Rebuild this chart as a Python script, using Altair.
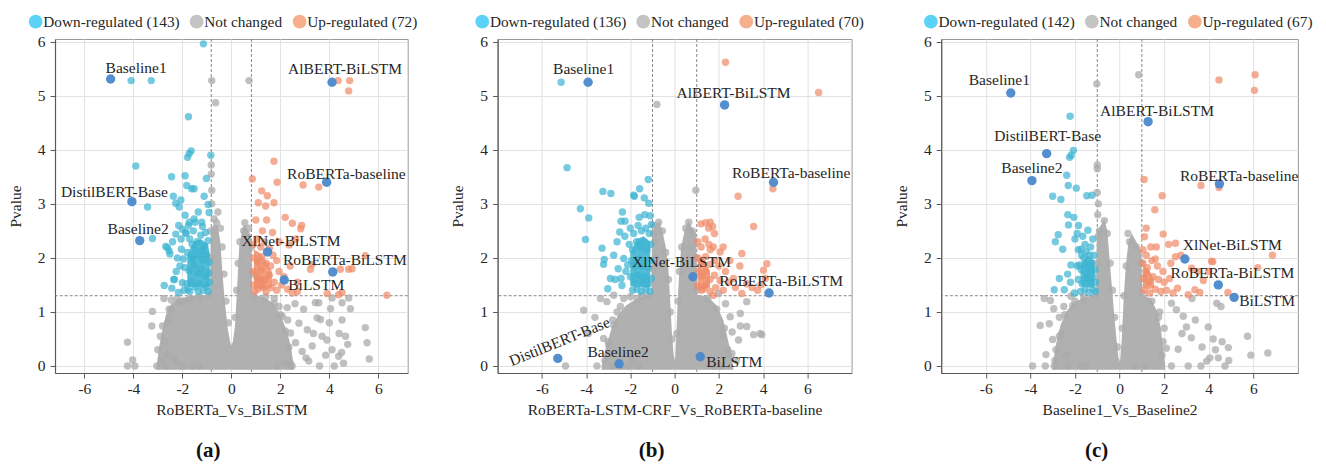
import altair as alt
import pandas as pd

FONT = "Liberation Serif"
TXT = "#262626"
LEGEND_COLORS = ["#5CD2F7", "#C4C4C4", "#F5AF8D"]
GRAY = "#ABABAB"
GRAY_MASS = "#B0B0B0"
BLUE = "#3CB4D2"
BLUE_CORE = "#4AB9D5"
ORANGE = "#EF8A66"
ORANGE_CORE = "#F29A7A"
HILITE = "#4A88CB"

X_TICKS = [-6, -4, -2, 0, 2, 4, 6]
Y_TICKS = [0, 1, 2, 3, 4, 5, 6]
Y_DOMAIN = [-0.13, 6.05]
P_CUT = 1.3
NAMES = ["Baseline1", "AlBERT-BiLSTM", "DistilBERT-Base", "Baseline2",
         "RoBERTa-baseline", "XlNet-BiLSTM", "RoBERTa-BiLSTM", "BiLSTM"]

# ---------------- panel (a) ----------------
A_XTITLE = "RoBERTa_Vs_BiLSTM"
A_CAPTION = "(a)"
A_LEGEND = ["Down-regulated (143)", "Not changed", "Up-regulated (72)"]
A_XDOM = [-7.2, 7.2]
A_FC = 0.82
A_HI_X = [-4.93, 4.11, -4.06, -3.74, 3.89, 1.48, 4.14, 2.16]
A_HI_Y = [5.31, 5.25, 3.04, 2.32, 3.40, 2.11, 1.74, 1.59]
A_DOWN = [(-4.09, 5.28), (-3.27, 5.28), (-1.14, 5.96), (-1.75, 4.61),
          (-3.90, 3.70), (-3.42, 2.94), (-3.22, 2.36), (-2.44, 3.50), (-2.37, 3.14), (-2.27, 3.01),
          (-2.06, 3.07), (-2.13, 2.94), (-1.89, 3.52), (-1.79, 3.86), (-1.72, 3.93), (-1.64, 3.98),
          (-1.82, 3.34), (-1.62, 3.28), (-1.52, 3.28), (-1.89, 2.79), (-1.52, 2.72), (-1.72, 2.66),
          (-2.00, 2.53), (-1.86, 2.47), (-2.27, 2.44), (-2.40, 2.30), (-2.68, 2.21), (-2.54, 2.13),
          (-2.04, 2.16), (-2.74, 1.49), (-2.43, 1.44), (-2.33, 1.60), (-2.00, 1.54), (-1.93, 1.40),
          (-1.02, 3.47), (-1.11, 3.14), (-0.95, 2.99), (-0.91, 2.84), (-0.84, 3.90), (-1.21, 2.66),
          (-1.05, 2.47), (-2.61, 2.19), (-2.51, 2.07), (-2.35, 1.60), (-2.16, 1.36), (-1.77, 1.42),
          (-1.85, 2.45), (-1.70, 2.35), (-1.55, 2.50), (-1.40, 2.30), (-1.25, 2.42), (-1.10, 2.22),
          (-0.95, 2.32), (-1.80, 2.10), (-1.62, 2.02), (-1.47, 2.15), (-1.32, 2.05), (-1.17, 1.96),
          (-1.02, 2.06), (-0.90, 1.92), (-1.90, 1.82), (-1.72, 1.76), (-1.52, 1.86), (-1.37, 1.72),
          (-1.22, 1.80), (-1.07, 1.66), (-0.92, 1.72), (-1.82, 1.52), (-1.62, 1.56), (-1.47, 1.46),
          (-1.30, 1.52), (-1.15, 1.40), (-1.00, 1.46), (-0.90, 1.55), (-1.75, 2.60), (-1.48, 2.66),
          (-1.18, 2.58), (-1.60, 2.25), (-1.15, 2.15), (-0.95, 1.38), (-1.70, 1.38), (-1.35, 1.38),
          (-2.10, 1.85), (-2.20, 2.00), (-2.25, 1.75), (-2.05, 2.35), (-2.15, 2.60), (-1.35, 2.85),
          (-1.95, 1.98), (-1.58, 1.98)]
A_UP = [(4.36, 5.28), (4.83, 5.28), (4.79, 5.09), (1.74, 3.79), (0.86, 3.46), (1.24, 3.24),
        (1.47, 3.15), (1.87, 3.40), (1.10, 3.02), (1.40, 2.96), (1.74, 3.02), (1.00, 2.70),
        (1.44, 2.70), (2.20, 2.75), (2.49, 2.64), (2.87, 2.60), (2.83, 2.54), (2.93, 3.35),
        (3.57, 3.31), (1.27, 2.50), (1.68, 2.47), (1.95, 2.30), (2.36, 2.24), (2.63, 2.35),
        (3.23, 1.79), (3.30, 1.88), (4.45, 1.79), (4.79, 1.79), (4.38, 1.32), (2.49, 1.35),
        (5.47, 2.04), (4.93, 1.80), (6.35, 1.31), (4.52, 1.36), (3.91, 1.34),
        (0.90, 2.25), (1.05, 2.35), (1.20, 2.20), (1.35, 2.30), (1.55, 2.18), (1.70, 2.05),
        (0.92, 2.00), (1.08, 1.92), (1.25, 2.02), (1.42, 1.90), (1.60, 1.85), (1.85, 1.95),
        (0.90, 1.75), (1.05, 1.65), (1.22, 1.78), (1.38, 1.60), (1.55, 1.68), (1.75, 1.55),
        (0.92, 1.50), (1.08, 1.42), (1.25, 1.52), (1.42, 1.38), (1.62, 1.45), (1.85, 1.40),
        (2.05, 1.50), (2.30, 1.42), (2.70, 1.38), (2.15, 1.65), (1.95, 1.75), (2.40, 1.85),
        (2.70, 1.55), (0.95, 1.38), (1.15, 1.60), (1.30, 1.45)]
A_GRAY = [(-0.80, 5.28), (0.72, 5.28), (-0.64, 4.87), (-0.82, 3.72), (-0.82, 3.55), (-0.80, 3.25),
          (-0.80, 3.00), (0.55, 2.65), (-0.70, 2.72), (-0.55, 2.85),
          (-4.24, 0.44), (-4.03, 0.11), (-4.24, 0.0), (-3.94, 0.0), (-3.04, 0.0), (-3.25, 0.74),
          (-3.22, 1.01), (-2.81, 0.74), (-2.54, 1.05), (-2.54, 0.89), (-2.61, 0.21), (-2.68, 0.0),
          (-1.99, 0.0), (-2.33, 0.13), (-2.75, 1.25), (-2.45, 1.22), (-2.20, 1.25), (-1.95, 1.20),
          (-3.0, 0.3), (-2.9, 0.55), (-2.2, 0.05), (-1.6, 0.0), (-1.3, 0.0),
          (5.47, 0.71), (5.54, 0.43), (5.63, 0.13), (4.86, 1.06), (4.52, 0.85), (4.05, 1.06),
          (3.43, 1.17), (3.50, 0.89), (3.70, 0.55), (3.90, 0.48), (4.11, 0.30), (4.38, 0.18),
          (4.58, 0.05), (4.66, 0.55), (4.20, 0.0), (3.60, 0.0), (3.16, 0.09), (2.89, 0.27),
          (2.62, 0.43), (2.42, 0.61), (2.76, 0.79), (3.10, 0.67), (3.30, 0.37), (2.21, 0.06),
          (2.48, 0.0), (1.87, 0.0), (2.08, 0.92), (2.28, 1.08), (4.79, 1.26), (4.52, 1.17),
          (4.11, 1.26), (3.57, 1.17), (3.64, 0.86), (4.40, 0.60), (4.00, 0.80), (3.85, 0.20),
          (4.50, 0.25), (4.75, 0.40), (3.35, 0.60), (2.95, 1.05), (3.05, 0.15), (2.60, 1.15),
          (1.95, 1.10), (1.75, 1.25), (2.30, 0.85),
          (-2.85, 0.1), (-2.7, 0.45), (-2.6, 0.8), (-2.45, 1.05), (-2.15, 1.18), (-1.7, 1.25),
          (-1.3, 1.28), (-0.9, 1.32), (-0.85, 2.0), (-0.85, 2.5), (-0.6, 2.65), (-0.45, 2.55),
          (-0.38, 2.2), (-0.3, 1.7), (-0.22, 1.2), (-0.12, 0.8), (0.15, 0.9), (0.22, 1.4),
          (0.28, 1.9), (0.35, 2.3), (0.5, 2.5), (0.7, 2.55), (0.83, 2.2), (0.85, 1.7), (0.9, 1.3),
          (1.4, 1.28), (1.75, 1.15), (2.0, 0.95), (2.2, 0.65), (2.35, 0.35), (2.4, 0.05)]
A_MASS_X = [-3.05, -2.95, -2.8, -2.65, -2.45, -2.1, -1.6, -0.86, -0.84, -0.7, -0.56, -0.45, -0.36,
            -0.28, -0.15, -0.05, 0.0, 0.06, 0.15, 0.22, 0.32, 0.45, 0.55, 0.7, 0.82, 0.85, 1.3,
            1.75, 2.05, 2.3, 2.45, 2.55]
A_MASS_Y = [0.0, 0.35, 0.7, 0.98, 1.15, 1.25, 1.3, 1.32, 2.55, 2.62, 2.6, 2.3, 1.7, 1.25, 0.7,
            0.45, 0.38, 0.45, 0.75, 1.3, 2.2, 2.55, 2.62, 2.5, 2.4, 1.32, 1.28, 1.15, 0.9, 0.6,
            0.3, 0.0]
A_DOWN_CORE = ([-1.80, -1.55, -1.25, -0.95, -0.88], [1.48, 1.45, 1.45, 1.45, 1.48],
               [2.05, 2.30, 2.35, 2.25, 2.05])
A_UP_CORE = ([0.92, 1.15, 1.40, 1.65], [1.45, 1.42, 1.42, 1.45], [2.15, 2.10, 1.95, 1.75])

# ---------------- panel (b) ----------------
B_XTITLE = "RoBERTa-LSTM-CRF_Vs_RoBERTa-baseline"
B_CAPTION = "(b)"
B_LEGEND = ["Down-regulated (136)", "Not changed", "Up-regulated (70)"]
B_XDOM = [-8, 8]
B_FC = 1.0
B_HI_X = [-3.91, 2.26, -5.28, -2.51, 4.47, 0.83, 4.27, 1.16]
B_HI_Y = [5.25, 4.83, 0.14, 0.04, 3.40, 1.65, 1.35, 0.17]
B_DOWN = [(-5.13, 5.25), (-4.86, 3.67), (-3.24, 3.23), (-2.88, 3.19), (-1.82, 3.14), (-1.58, 3.28),
          (-1.37, 3.11), (-1.19, 3.45), (-4.26, 2.91), (-3.88, 2.74), (-4.03, 2.34), (-3.28, 2.18),
          (-3.21, 1.88), (-3.18, 1.97), (-2.90, 1.62), (-2.68, 1.60), (-3.02, 1.43), (-1.85, 3.16),
          (-1.17, 3.01), (-2.36, 2.85), (-2.42, 2.68), (-2.24, 2.68), (-2.48, 2.48), (-2.30, 1.99),
          (-2.12, 1.87), (-2.42, 1.62), (-2.38, 1.49),
          (-2.0, 2.55), (-1.85, 2.45), (-1.65, 2.6), (-1.5, 2.5), (-1.3, 2.55), (-1.15, 2.45),
          (-1.05, 2.62), (-2.05, 2.25), (-1.9, 2.15), (-1.72, 2.3), (-1.55, 2.2), (-1.4, 2.3),
          (-1.25, 2.15), (-1.08, 2.25), (-1.95, 1.95), (-1.8, 1.85), (-1.62, 1.98), (-1.48, 1.85),
          (-1.32, 1.95), (-1.18, 1.82), (-1.05, 1.95), (-2.0, 1.65), (-1.82, 1.55), (-1.66, 1.68),
          (-1.5, 1.55), (-1.35, 1.65), (-1.2, 1.52), (-1.05, 1.62), (-1.9, 1.4), (-1.7, 1.42),
          (-1.5, 1.38), (-1.3, 1.42), (-1.12, 1.38), (-2.2, 1.75), (-2.25, 2.4), (-1.6, 2.75),
          (-1.35, 2.8), (-1.1, 2.78), (-2.6, 2.3), (-2.75, 2.05), (-2.55, 1.8)]
B_UP = [(2.30, 5.62), (6.51, 5.06), (2.87, 3.14), (4.44, 3.28), (3.57, 2.58), (1.19, 2.63),
        (1.61, 2.66), (1.54, 2.55), (1.80, 2.45), (2.06, 2.11), (1.61, 2.15), (3.04, 2.08),
        (4.17, 1.89), (4.02, 1.77), (4.1, 1.62), (3.9, 1.5), (3.26, 1.52), (2.66, 1.62),
        (3.04, 1.34), (2.75, 1.45), (1.76, 1.31), (1.31, 1.43), (1.4, 2.65), (1.72, 2.58),
        (2.2, 2.2), (2.5, 1.95), (2.3, 1.75), (3.5, 1.45), (3.75, 1.4), (2.95, 1.85),
        (1.05, 2.3), (1.2, 2.2), (1.38, 2.35), (1.55, 2.25), (1.75, 2.2), (1.05, 2.0),
        (1.22, 1.92), (1.4, 2.02), (1.58, 1.88), (1.8, 1.95), (2.0, 1.85), (1.08, 1.75),
        (1.25, 1.65), (1.42, 1.75), (1.6, 1.6), (1.8, 1.68), (2.05, 1.58), (1.05, 1.48),
        (1.22, 1.4), (1.4, 1.5), (1.6, 1.38), (1.85, 1.45), (2.2, 1.4), (2.45, 1.55)]
B_GRAY = [(-0.80, 4.84), (0.96, 3.25), (0.64, 2.66), (0.71, 2.20), (-0.72, 2.66), (-0.95, 2.6),
          (-0.9, 2.3), (-0.85, 2.0), (-2.75, 1.31), (-4.11, 1.03), (-4.93, 0.0), (-2.82, 0.0),
          (-1.62, 0.0), (2.97, 0.97), (3.26, 0.73), (2.60, 0.63), (3.57, 0.58), (3.94, 0.58),
          (2.59, 0.23), (-3.35, 1.25), (-3.06, 1.19), (-2.60, 1.0), (-2.75, 0.76), (-3.21, 0.51),
          (-2.98, 0.39), (-3.51, 0.0), (-2.08, 0.0), (-2.4, 0.0), (-1.9, 0.1), (2.51, 0.91),
          (2.97, 0.74), (3.87, 0.60), (3.26, 1.19), (2.89, 0.48), (1.99, 1.34), (2.3, 1.15),
          (2.2, 0.55), (2.4, 0.3), (2.8, 0.1), (2.1, 0.0), (1.8, 0.0), (-3.6, 0.9), (-3.9, 0.6),
          (-2.3, 1.25), (-2.0, 1.28), (-1.5, 1.3),
          (-3.15, 0.1), (-3.0, 0.45), (-2.8, 0.85), (-2.45, 1.1), (-1.7, 1.25), (-1.2, 1.3),
          (-1.0, 1.8), (-0.95, 2.45), (-0.55, 2.5), (-0.4, 2.1), (-0.28, 1.6), (-0.2, 1.0),
          (-0.12, 0.5), (0.1, 0.6), (0.15, 1.2), (0.22, 1.75), (0.32, 2.2), (0.5, 2.55),
          (0.8, 2.5), (0.98, 2.0), (1.0, 1.4), (1.5, 1.25), (1.9, 1.05), (2.25, 0.7), (2.45, 0.2)]
B_MASS_X = [-3.3, -3.1, -2.85, -2.55, -2.2, -1.8, -1.4, -1.05, -1.02, -0.85, -0.7, -0.55, -0.4,
            -0.28, -0.2, -0.12, -0.04, 0.02, 0.07, 0.14, 0.22, 0.3, 0.45, 0.62, 0.8, 0.98, 1.02,
            1.5, 1.9, 2.2, 2.4, 2.55, 2.65]
B_MASS_Y = [0.0, 0.35, 0.7, 0.95, 1.12, 1.22, 1.3, 1.32, 2.45, 2.62, 2.68, 2.5, 2.2, 1.8, 1.2,
            0.6, 0.2, 0.1, 0.5, 1.2, 1.8, 2.2, 2.5, 2.68, 2.55, 2.45, 1.32, 1.28, 1.12, 0.85,
            0.5, 0.25, 0.0]
B_DOWN_CORE = ([-2.0, -1.7, -1.4, -1.1], [1.48, 1.45, 1.45, 1.45], [2.1, 2.35, 2.4, 2.3])
B_UP_CORE = ([1.05, 1.3, 1.6], [1.45, 1.42, 1.45], [1.95, 2.0, 1.75])

# ---------------- panel (c) ----------------
C_XTITLE = "Baseline1_Vs_Baseline2"
C_CAPTION = "(c)"
C_LEGEND = ["Down-regulated (142)", "Not changed", "Up-regulated (67)"]
C_XDOM = [-8, 8]
C_FC = 1.0
C_HI_X = [-4.88, 1.28, -3.27, -3.93, 4.48, 2.93, 4.43, 5.14]
C_HI_Y = [5.05, 4.52, 3.93, 3.43, 3.37, 1.98, 1.50, 1.27]
C_DOWN = [(-2.22, 4.62), (-2.07, 3.99), (-2.17, 3.90), (-2.24, 3.86), (-2.37, 3.53), (-2.30, 3.34),
          (-1.94, 3.29), (-3.0, 3.14), (-2.63, 3.08), (-1.47, 3.15), (-1.23, 3.16), (-2.32, 2.80),
          (-2.29, 2.61), (-1.84, 2.60), (-1.42, 2.51), (-2.75, 2.43), (-2.88, 2.30), (-2.55, 2.16),
          (-1.73, 2.16), (-2.18, 1.87), (-1.80, 1.87), (-2.70, 1.62), (-2.33, 1.70), (-2.48, 1.41),
          (-2.93, 1.41), (-2.03, 1.35), (-2.05, 2.75), (-1.55, 2.25), (-1.2, 2.35), (-1.6, 2.0),
          (-1.35, 2.05), (-2.0, 2.35), (-1.9, 2.45), (-1.65, 2.4),
          (-1.85, 2.15), (-1.7, 2.05), (-1.5, 2.12), (-1.3, 2.2), (-1.15, 2.05), (-1.9, 1.85),
          (-1.72, 1.78), (-1.55, 1.9), (-1.4, 1.82), (-1.25, 1.9), (-1.1, 1.78), (-1.85, 1.6),
          (-1.68, 1.52), (-1.5, 1.62), (-1.35, 1.55), (-1.2, 1.65), (-1.08, 1.55), (-1.75, 1.38),
          (-1.55, 1.42), (-1.38, 1.36), (-1.2, 1.42), (-1.08, 1.38), (-2.2, 1.55), (-1.45, 1.7),
          (-1.25, 1.75)]
C_UP = [(4.46, 5.29), (6.08, 5.39), (6.05, 5.10), (1.10, 3.45), (1.91, 3.15), (3.65, 3.34),
        (4.46, 3.30), (1.58, 2.89), (1.20, 2.55), (1.96, 2.44), (2.51, 2.27), (2.51, 2.02),
        (4.13, 1.94), (6.86, 2.05), (6.20, 1.82), (3.23, 1.81), (2.60, 1.44), (3.08, 1.32),
        (3.60, 1.36), (4.86, 1.36), (4.18, 1.93), (3.76, 1.58), (3.38, 1.41), (1.65, 2.20),
        (1.12, 2.39), (2.2, 2.25), (2.75, 2.05), (2.3, 1.9), (3.5, 1.75), (4.0, 1.75),
        (1.05, 2.15), (1.2, 2.05), (1.4, 2.2), (1.05, 1.9), (1.25, 1.82), (1.45, 1.95),
        (1.7, 1.85), (1.95, 1.75), (1.08, 1.62), (1.3, 1.55), (1.5, 1.65), (1.75, 1.6),
        (2.0, 1.55), (2.25, 1.62), (1.1, 1.4), (1.35, 1.35), (1.6, 1.42), (1.85, 1.38),
        (2.1, 1.4), (2.4, 1.35), (1.2, 1.72), (1.6, 1.98)]
C_GRAY = [(0.86, 5.39), (-1.02, 5.22), (-1.0, 3.72), (-1.0, 3.65), (-1.0, 3.21), (-0.68, 2.69),
          (0.38, 2.45), (-0.95, 3.0), (-0.98, 2.8), (-0.9, 2.5),
          (-3.90, 0.0), (-3.33, 0.0), (-2.93, 0.0), (-2.33, 0.0), (-3.30, 0.21), (-3.56, 0.75),
          (-3.15, 0.78), (-3.38, 1.25), (-3.10, 1.21), (-2.95, 1.06), (-3.0, 0.49), (-2.18, 1.29),
          (-1.72, 0.0), (-1.5, 0.0), (-2.7, 0.9), (-2.5, 1.1), (-2.6, 0.6), (-2.85, 0.3),
          (-2.4, 0.2), (-2.0, 1.2), (-1.6, 1.28),
          (0.68, 0.0), (1.13, 0.0), (2.33, 0.0), (3.08, 0.0), (3.65, 0.0), (3.91, 0.09),
          (4.73, 0.0), (4.43, 0.15), (4.88, 0.34), (5.74, 0.55), (5.89, 0.20), (6.65, 0.24),
          (3.98, 0.72), (3.0, 0.72), (2.86, 0.92), (3.22, 0.52), (2.63, 0.31), (2.10, 0.33),
          (2.55, 1.04), (2.33, 1.16), (4.36, 1.16), (4.55, 1.1), (3.25, 1.25), (4.2, 0.5),
          (4.6, 0.45), (4.3, 0.3), (3.7, 0.35), (4.05, 0.15), (4.9, 0.1), (3.4, 0.85), (2.0, 0.7),
          (1.8, 1.0), (1.9, 0.2), (2.8, 0.6),
          (-2.9, 0.1), (-2.7, 0.55), (-2.45, 0.95), (-2.1, 1.12), (-1.6, 1.22), (-1.1, 1.3),
          (-1.0, 1.9), (-0.95, 2.4), (-0.55, 2.45), (-0.42, 1.9), (-0.32, 1.4), (-0.22, 0.9),
          (-0.1, 0.35), (0.12, 0.7), (0.2, 1.3), (0.3, 1.85), (0.45, 2.3), (0.75, 2.2),
          (0.98, 1.9), (1.0, 1.35), (1.45, 1.2), (1.75, 0.9), (1.95, 0.45)]
C_MASS_X = [-3.0, -2.85, -2.65, -2.4, -2.1, -1.7, -1.3, -1.05, -1.02, -0.85, -0.68, -0.55, -0.45,
            -0.35, -0.25, -0.15, -0.05, 0.02, 0.1, 0.18, 0.28, 0.4, 0.55, 0.75, 0.98, 1.02, 1.4,
            1.7, 1.85, 1.95, 2.05]
C_MASS_Y = [0.0, 0.4, 0.75, 1.0, 1.15, 1.25, 1.3, 1.32, 2.45, 2.6, 2.72, 2.5, 2.0, 1.5, 1.0, 0.55,
            0.15, 0.08, 0.5, 1.2, 1.85, 2.3, 2.45, 2.3, 2.1, 1.32, 1.25, 1.0, 0.7, 0.35, 0.0]
C_DOWN_CORE = ([-1.75, -1.45, -1.12], [1.5, 1.45, 1.45], [1.85, 2.05, 1.95])
C_UP_CORE = ([1.05, 1.3, 1.55], [1.45, 1.42, 1.45], [1.85, 1.8, 1.6])

# label placement (style only): align, dx, dy, angle
LABEL_STYLE = {
    "a": [("left", -5, -11, 0), ("right", 70, -13, 0), ("right", 36, -10, 0), ("right", 29, -12, 0),
          ("right", 79, -8, 0), ("left", -26, -11, 0), ("right", 74, -12, 0), ("left", 4, 5, 0)],
    "b": [("left", -35, -13, 0), ("left", -48, -12, 0), ("center", 8, -15, 338), ("center", -1, -12, 0),
          ("right", 77, -9, 0), ("left", -61, -15, 0), ("right", 74, -12, 0), ("left", 6, 5, 0)],
    "c": [("left", -42, -13, 0), ("left", -48, -11, 0), ("center", 1, -18, 0), ("center", 0, -13, 0),
          ("right", 79, -8, 0), ("left", -2, -14, 0), ("right", 76, -12, 0), ("left", 5, 4, 0)],
}
LEGEND_POS = {"a": -27, "b": -23, "c": -18}


def pts(pairs):
    return pd.DataFrame(pairs, columns=["x", "y"])


def panel(key, xtitle, caption, legend_cats, xdom, fc, hi_x, hi_y, down, up, gray,
          mass_x, mass_y, down_core, up_core, width):
    xax = alt.Axis(values=X_TICKS, title=xtitle, labelExpr="'' + datum.value", grid=True,
                   gridColor="#E2E2E2", domainColor="#5a5a5a", domainWidth=1.2,
                   tickColor="#5a5a5a", tickSize=5, labelFont=FONT, labelFontSize=15.5,
                   labelColor=TXT, labelPadding=3, titleFont=FONT, titleFontSize=15.5,
                   titleFontWeight="normal", titleColor=TXT, titlePadding=6, labelFlush=False)
    yax = alt.Axis(values=Y_TICKS, title="Pvalue", grid=True, gridColor="#E2E2E2",
                   domainColor="#5a5a5a", domainWidth=1.2, tickColor="#5a5a5a", tickSize=5,
                   labelFont=FONT, labelFontSize=15.5, labelColor=TXT, labelPadding=5,
                   titleFont=FONT, titleFontSize=15.5, titleFontWeight="normal",
                   titleColor=TXT, titlePadding=14, labelFlush=False)
    X = alt.X("x:Q", scale=alt.Scale(domain=xdom, nice=False, zero=False), axis=xax)
    Y = alt.Y("y:Q", scale=alt.Scale(domain=Y_DOMAIN, nice=False, zero=False), axis=yax)

    legend_df = pd.DataFrame({"cat": legend_cats, "x": [0, 0, 0], "y": [0, 0, 0]})
    legend_layer = alt.Chart(legend_df).mark_circle(opacity=0, size=1).encode(
        x=X, y=Y,
        color=alt.Color("cat:N", scale=alt.Scale(domain=legend_cats, range=LEGEND_COLORS),
                        legend=alt.Legend(orient="none", legendX=LEGEND_POS[key], legendY=-25,
                                          direction="horizontal", title=None, symbolType="circle",
                                          symbolSize=190, symbolOpacity=1, symbolStrokeWidth=0,
                                          labelFont=FONT, labelFontSize=15.3, labelColor=TXT,
                                          labelOffset=0, columnPadding=9, padding=0)))

    vrules = alt.Chart(pd.DataFrame({"x": [-fc, fc]})).mark_rule(
        color="#7a7a7a", strokeDash=[3, 2], strokeWidth=0.9).encode(x=X)
    hrule = alt.Chart(pd.DataFrame({"y": [P_CUT]})).mark_rule(
        color="#7a7a7a", strokeDash=[3, 2], strokeWidth=0.9).encode(y=Y)

    mass = alt.Chart(pd.DataFrame({"x": mass_x, "y": mass_y})).mark_area(
        color=GRAY_MASS, opacity=1).encode(x=X, y=Y, y2=alt.datum(-0.07))
    gray_pts = alt.Chart(pts(gray)).mark_circle(size=55, color=GRAY, opacity=0.75).encode(x=X, y=Y)

    dcore = alt.Chart(pd.DataFrame({"x": down_core[0], "lo": down_core[1], "y": down_core[2]})).mark_area(
        color=BLUE_CORE, opacity=0.95).encode(x=X, y=Y, y2="lo:Q")
    ucore = alt.Chart(pd.DataFrame({"x": up_core[0], "lo": up_core[1], "y": up_core[2]})).mark_area(
        color=ORANGE_CORE, opacity=0.95).encode(x=X, y=Y, y2="lo:Q")
    down_pts = alt.Chart(pts(down)).mark_circle(size=55, color=BLUE, opacity=0.7).encode(x=X, y=Y)
    up_pts = alt.Chart(pts(up)).mark_circle(size=55, color=ORANGE, opacity=0.7).encode(x=X, y=Y)

    hi_df = pd.DataFrame({"name": NAMES, "x": hi_x, "y": hi_y})
    hi_pts = alt.Chart(hi_df).mark_circle(size=88, color=HILITE, opacity=0.95).encode(x=X, y=Y)

    layers = [legend_layer, vrules, hrule, mass, gray_pts, dcore, down_pts, ucore, up_pts, hi_pts]
    for i, (align, dx, dy, angle) in enumerate(LABEL_STYLE[key]):
        lab = alt.Chart(hi_df.iloc[[i]]).mark_text(
            align=align, baseline="middle", dx=dx, dy=dy, angle=angle, font=FONT,
            fontSize=15.5, color=TXT).encode(x=X, y=Y, text="name:N")
        layers.append(lab)

    return alt.layer(*layers).properties(
        width=width, height=334,
        title=alt.TitleParams(caption, orient="bottom", font=FONT, fontSize=21, fontWeight="bold",
                              color="#111111", offset=22, anchor="middle", dx=-23))


pa = panel("a", A_XTITLE, A_CAPTION, A_LEGEND, A_XDOM, A_FC, A_HI_X, A_HI_Y, A_DOWN, A_UP, A_GRAY,
           A_MASS_X, A_MASS_Y, A_DOWN_CORE, A_UP_CORE, 352.7)
pb = panel("b", B_XTITLE, B_CAPTION, B_LEGEND, B_XDOM, B_FC, B_HI_X, B_HI_Y, B_DOWN, B_UP, B_GRAY,
           B_MASS_X, B_MASS_Y, B_DOWN_CORE, B_UP_CORE, 354)
pc = panel("c", C_XTITLE, C_CAPTION, C_LEGEND, C_XDOM, C_FC, C_HI_X, C_HI_Y, C_DOWN, C_UP, C_GRAY,
           C_MASS_X, C_MASS_Y, C_DOWN_CORE, C_UP_CORE, 356.7)

chart = alt.hconcat(pa, pb, pc, spacing=89.6, bounds="flush").resolve_scale(
    color="independent").properties(
    padding={"left": 7, "top": 13, "right": 5, "bottom": 5}, background="white"
).configure_view(stroke="#9a9a9a", strokeWidth=1)

chart.save("out.html", embed_options={"renderer": "svg", "actions": False})
